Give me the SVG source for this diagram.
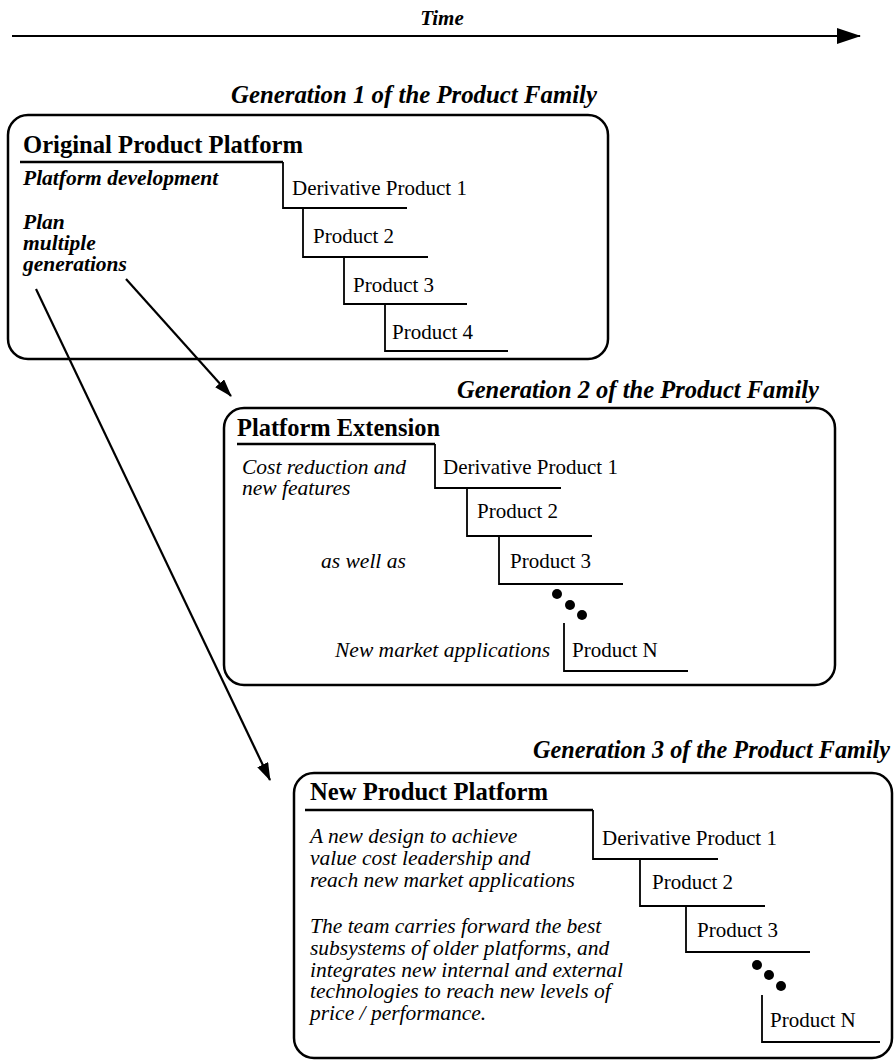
<svg xmlns="http://www.w3.org/2000/svg" width="895" height="1061" viewBox="0 0 895 1061">
<style>
  text { font-family: "Liberation Serif", "Times New Roman", serif; fill: #000; }
  .title { font-size: 24.5px; font-weight: bold; font-style: italic; }
  .head { font-size: 24.5px; font-weight: bold; }
  .bi { font-size: 21.5px; font-weight: bold; font-style: italic; }
  .it { font-size: 21.5px; font-style: italic; }
  .reg { font-size: 21px; }
  .box { fill: none; stroke: #000; stroke-width: 2.5; }
  .step { fill: none; stroke: #000; stroke-width: 1.8; }
  .hline { fill: none; stroke: #000; stroke-width: 2.6; }
  .conn { fill: none; stroke: #000; stroke-width: 2.2; }
  .dot { fill: #000; }
</style>
<defs>
  <marker id="ah" viewBox="0 0 18 12" markerWidth="18" markerHeight="12" refX="17" refY="6" orient="auto" markerUnits="userSpaceOnUse">
    <path d="M0,0 L18,6 L0,12 z" fill="#000"/>
  </marker>
  <marker id="ahT" viewBox="0 0 24 16" markerWidth="24" markerHeight="16" refX="23" refY="8" orient="auto" markerUnits="userSpaceOnUse">
    <path d="M0,0 L24,8 L0,16 z" fill="#000"/>
  </marker>
</defs>

<g id="time">
  <text class="title" x="442" y="25" text-anchor="middle" style="font-size:21px">Time</text>
</g>

<g id="connectors">
  <path class="conn" d="M12,36 H860" stroke-width="3" marker-end="url(#ahT)"/>
  <path class="conn" d="M126,279 L231,396" marker-end="url(#ah)"/>
  <path class="conn" d="M36,289 L270,780" marker-end="url(#ah)"/>
</g>

<g id="generation1">
  <text class="title" x="231" y="103" textLength="366" lengthAdjust="spacingAndGlyphs">Generation 1 of the Product Family</text>
  <rect class="box" x="8" y="115" width="600" height="244" rx="20" ry="20"/>
  <text class="head" x="23" y="153" textLength="280" lengthAdjust="spacingAndGlyphs">Original Product Platform</text>
  <path class="hline" d="M20,162 H283"/>
  <path class="step" d="M283,162 V208 H407"/>
  <path class="step" d="M303,208 V257 H428"/>
  <path class="step" d="M344,257 V304 H467"/>
  <path class="step" d="M385,304 V351 H508"/>
  <text class="bi" x="23" y="185">Platform development</text>
  <text class="bi" x="23" y="229">Plan</text>
  <text class="bi" x="23" y="250">multiple</text>
  <text class="bi" x="23" y="271">generations</text>
  <text class="reg" x="292" y="195">Derivative Product 1</text>
  <text class="reg" x="313" y="243">Product 2</text>
  <text class="reg" x="353" y="292">Product 3</text>
  <text class="reg" x="392" y="339">Product 4</text>
</g>

<g id="generation2">
  <text class="title" x="457" y="398" textLength="362" lengthAdjust="spacingAndGlyphs">Generation 2 of the Product Family</text>
  <rect class="box" x="224" y="408" width="611" height="277" rx="20" ry="20"/>
  <text class="head" x="237" y="436" textLength="203" lengthAdjust="spacingAndGlyphs">Platform Extension</text>
  <path class="hline" d="M237,444 H435"/>
  <path class="step" d="M435,444 V488 H561"/>
  <path class="step" d="M467,488 V536 H592"/>
  <path class="step" d="M499,536 V584 H623"/>
  <path class="step" d="M564,623 V671 H688"/>
  <circle class="dot" cx="557" cy="594" r="5"/>
  <circle class="dot" cx="570" cy="605" r="5"/>
  <circle class="dot" cx="582" cy="615" r="5"/>
  <text class="it" x="242" y="474">Cost reduction and</text>
  <text class="it" x="242" y="495">new features</text>
  <text class="it" x="321" y="568">as well as</text>
  <text class="it" x="550" y="657" text-anchor="end">New market applications</text>
  <text class="reg" x="443" y="474">Derivative Product 1</text>
  <text class="reg" x="477" y="518">Product 2</text>
  <text class="reg" x="510" y="568">Product 3</text>
  <text class="reg" x="572" y="657">Product N</text>
</g>

<g id="generation3">
  <text class="title" x="533" y="758" textLength="357" lengthAdjust="spacingAndGlyphs">Generation 3 of the Product Family</text>
  <rect class="box" x="294" y="773" width="598" height="285" rx="20" ry="20"/>
  <text class="head" x="310" y="800" textLength="238" lengthAdjust="spacingAndGlyphs">New Product Platform</text>
  <path class="hline" d="M305,810 H593"/>
  <path class="step" d="M593,810 V859 H718"/>
  <path class="step" d="M640,859 V906 H765"/>
  <path class="step" d="M686,906 V952 H810"/>
  <path class="step" d="M762,995 V1042 H880"/>
  <circle class="dot" cx="757" cy="965" r="5"/>
  <circle class="dot" cx="769" cy="975" r="5"/>
  <circle class="dot" cx="781" cy="986" r="5"/>
  <text class="it" x="310" y="843">A new design to achieve</text>
  <text class="it" x="310" y="865">value cost leadership and</text>
  <text class="it" x="310" y="887">reach new market applications</text>
  <text class="it" x="310" y="933">The team carries forward the best</text>
  <text class="it" x="310" y="955">subsystems of older platforms, and</text>
  <text class="it" x="310" y="977">integrates new internal and external</text>
  <text class="it" x="310" y="998">technologies to reach new levels of</text>
  <text class="it" x="310" y="1020">price / performance.</text>
  <text class="reg" x="602" y="845">Derivative Product 1</text>
  <text class="reg" x="652" y="889">Product 2</text>
  <text class="reg" x="697" y="937">Product 3</text>
  <text class="reg" x="770" y="1027">Product N</text>
</g>
</svg>
